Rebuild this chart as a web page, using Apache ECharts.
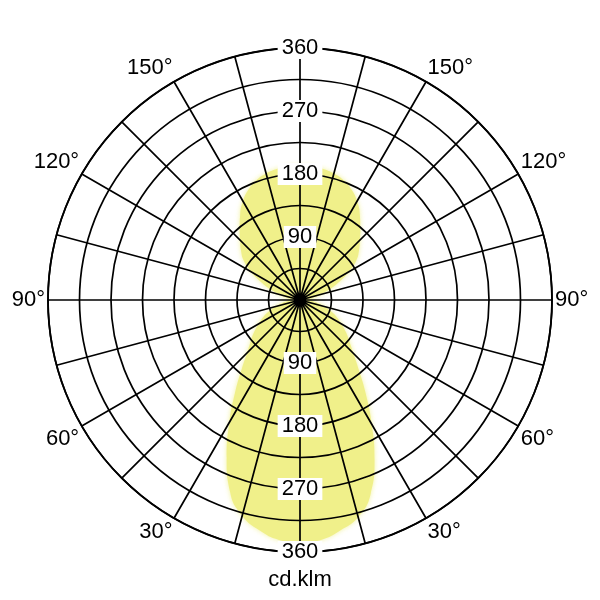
<!DOCTYPE html>
<html>
<head>
    <meta charset="utf-8">
    <title>Polar luminous intensity</title>
    <script src="https://cdn.jsdelivr.net/npm/echarts@6/dist/echarts.min.js"></script>
    <style>
        body { margin: 0; background: #fff; }
        #chart { width: 600px; height: 600px; }
    </style>
</head>
<body>
    <div id="chart"></div>

    <script type="text/javascript">
        // gamma angle from nadir (0 = straight down, 180 = straight up)
        var gammaDeg = [0, 5, 10, 15, 20, 25, 30, 35, 40, 45, 50, 55, 60, 65, 70, 75, 80, 85, 90,
                        95, 100, 105, 110, 115, 120, 125, 130, 135, 140, 145, 150, 155, 160, 165, 170, 175, 180];
        // cd/klm, left half of the diagram
        var intensityLeft = [347, 344, 334, 319, 292, 248, 202, 162, 130, 107, 92, 80, 68, 58, 47, 36, 26, 17, 10,
                             12, 20, 30, 45, 62, 80, 98, 110, 121, 134, 149, 163, 174, 182, 187, 190, 192, 192];
        // cd/klm, right half of the diagram
        var intensityRight = [347, 344, 334, 321, 295, 252, 205, 164, 131, 108, 92, 80, 68, 58, 47, 36, 26, 17, 10,
                              12, 20, 30, 45, 62, 80, 98, 110, 121, 134, 149, 163, 174, 182, 187, 190, 192, 192];
        var radiusTicks = [90, 180, 270, 360];
        var angleLabels = [30, 60, 90, 120, 150];
        var unitLabel = 'cd.klm';

        var font = 'Liberation Sans, Arial, sans-serif';

        // polar data is [radius, angle]; left side runs 0..180, right side 180..360
        var curve = [];
        for (var i = 0; i < gammaDeg.length; i++) {
            curve.push([intensityLeft[i], gammaDeg[i]]);
        }
        for (var j = gammaDeg.length - 1; j >= 0; j--) {
            curve.push([intensityRight[j], 360 - gammaDeg[j]]);
        }

        function angleText(v) {
            var g = v <= 180 ? v : 360 - v;
            return angleLabels.indexOf(g) >= 0 ? g + '°' : '';
        }

        var myChart = echarts.init(document.getElementById('chart'));
        var labelStyle = {
            show: true,
            fontFamily: font,
            fontSize: 22,
            color: '#000',
            align: 'center',
            verticalAlign: 'middle',
            margin: 0,
            backgroundColor: '#fff',
            padding: [0, 4],
            showMinLabel: false,
            formatter: function (v) { return radiusTicks.indexOf(v) >= 0 ? String(v) : ''; }
        };

        var option = {
            animation: false,
            backgroundColor: '#fff',
            title: {
                text: unitLabel,
                left: 'center',
                top: 564,
                textStyle: { fontFamily: font, fontSize: 22, fontWeight: 'normal', color: '#000' }
            },
            polar: [
                { center: ['50%', '50%'], radius: 252 },
                { center: ['50%', '50%'], radius: 252 },
                { center: ['50%', '50%'], radius: 252 }
            ],
            angleAxis: [
                {
                    polarIndex: 0, type: 'value', min: 0, max: 360, interval: 15,
                    startAngle: 270, clockwise: true, z: 3,
                    axisLine: { show: true, lineStyle: { color: '#000', width: 1.8 } },
                    axisTick: { show: false },
                    splitLine: { show: true, lineStyle: { color: '#000', width: 1.7 } },
                    axisLabel: {
                        margin: 3, fontFamily: font, fontSize: 22, color: '#000',
                        formatter: angleText
                    }
                },
                {
                    polarIndex: 1, type: 'value', min: 0, max: 360, startAngle: 90, z: 5,
                    axisLine: { show: false }, axisTick: { show: false },
                    splitLine: { show: false }, axisLabel: { show: false }
                },
                {
                    polarIndex: 2, type: 'value', min: 0, max: 360, startAngle: 270, z: 5,
                    axisLine: { show: false }, axisTick: { show: false },
                    splitLine: { show: false }, axisLabel: { show: false }
                }
            ],
            radiusAxis: [
                {
                    polarIndex: 0, type: 'value', min: 0, max: 360, interval: 45, z: 3,
                    axisLine: { show: false }, axisTick: { show: false },
                    axisLabel: { show: false },
                    splitLine: { show: true, lineStyle: { color: '#000', width: 1.7 } }
                },
                {
                    polarIndex: 1, type: 'value', min: 0, max: 360, interval: 90, z: 5,
                    axisLine: { show: false }, axisTick: { show: false },
                    splitLine: { show: false },
                    axisLabel: labelStyle
                },
                {
                    polarIndex: 2, type: 'value', min: 0, max: 360, interval: 90, z: 5,
                    axisLine: { show: false }, axisTick: { show: false },
                    splitLine: { show: false },
                    axisLabel: labelStyle
                }
            ],
            series: [{
                type: 'line',
                coordinateSystem: 'polar',
                polarIndex: 0,
                data: curve,
                smooth: true,
                symbol: 'none',
                z: 1,
                lineStyle: { width: 0 },
                areaStyle: {
                    color: '#f0f08a',
                    opacity: 1,
                    shadowBlur: 5,
                    shadowColor: 'rgba(240, 240, 140, 0.8)'
                }
            }]
        };

        myChart.setOption(option);
    </script>
</body>
</html>
